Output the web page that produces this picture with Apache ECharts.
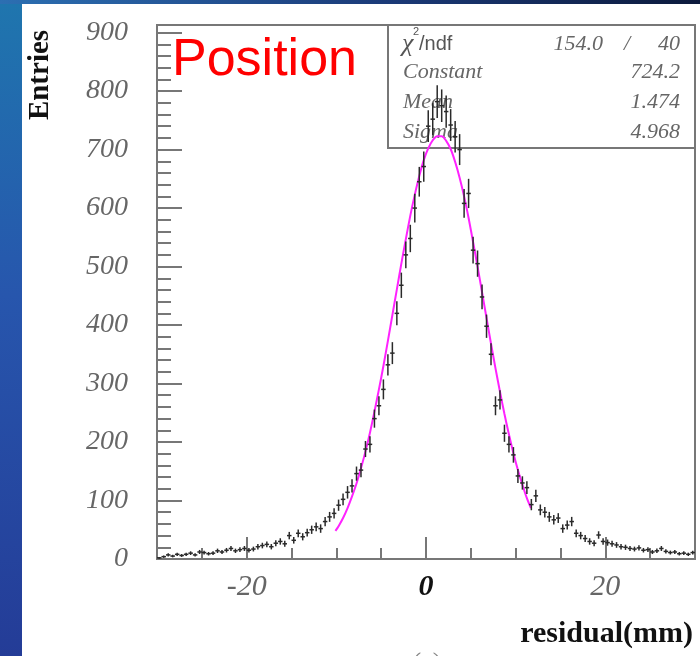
<!DOCTYPE html>
<html>
<head>
<meta charset="utf-8">
<title>Position residual</title>
<script src="https://cdn.jsdelivr.net/npm/echarts@6.0.0/dist/echarts.min.js"></script>
<style>
html, body { margin: 0; padding: 0; }
#main {
	width: 700px;
	height: 656px;
	background:
		linear-gradient(90deg, #2c6fb2 0%, #1b3a78 55%, #0c1a3c 100%) top left / 100% 4px no-repeat,
		linear-gradient(180deg, #1f76ae 0%, #2756ad 45%, #243c97 100%);
}
</style>
</head>
<body>
<div id="main"></div>
<script>
// histogram: 120 bins of 0.5 mm from -30 to 30
const xMin = -30
const binWidth = 0.5
const counts = [
	2, 4, 7, 5, 8, 6, 8, 10, 7, 12,
	11, 9, 10, 14, 12, 15, 18, 14, 16, 18,
	15, 17, 21, 23, 25, 21, 27, 30, 26, 40,
	32, 44, 38, 45, 50, 55, 52, 64, 72, 78,
	92, 102, 114, 125, 146, 152, 188, 196, 240, 262,
	290, 332, 352, 420, 468, 520, 548, 600, 645, 671,
	740, 752, 782, 775, 765, 742, 722, 700, 608, 625,
	528, 505, 448, 398, 350, 262, 272, 215, 196, 178,
	142, 130, 122, 93, 108, 84, 80, 72, 67, 70,
	52, 58, 64, 44, 40, 35, 30, 27, 41, 30,
	28, 26, 24, 21, 20, 18, 17, 19, 15, 16,
	12, 14, 18, 13, 11, 12, 9, 10, 8, 11
]

// gaussian fit curve
const fitX = [-10.1, -9.75, -9.25, -8.75, -8.25, -7.75, -7.25, -6.75, -6.25, -5.75, -5.25, -4.75, -4.25, -3.75, -3.25, -2.75, -2.25, -1.75, -1.25, -0.75, -0.25, 0.25, 0.75, 1.25, 1.75, 2.25, 2.75, 3.25, 3.75, 4.25, 4.75, 5.25, 5.75, 6.25, 6.75, 7.25, 7.75, 8.25, 8.75, 9.25, 9.75, 10.25, 10.75, 11.25, 11.7]
const fitY = [48, 56, 70, 87, 107, 129, 155, 184, 216, 252, 290, 330, 373, 417, 461, 505, 547, 587, 623, 655, 682, 702, 716, 723, 723, 715, 701, 679, 652, 620, 583, 542, 500, 456, 412, 368, 326, 286, 248, 213, 181, 152, 127, 104, 87]

const xTicks = [-30, -25, -20, -15, -10, -5, 0, 5, 10, 15, 20, 25, 30]
const xTickLabels = [-20, 0, 20]
const yTickLabels = [0, 100, 200, 300, 400, 500, 600, 700, 800, 900]

const statNames = ["Constant", "Mean", "Sigma"]
const statValues = ["724.2", "1.474", "4.968"]
const chi2 = "154.0"
const ndf = "40"

const yMinor = []
for (let v = 0; v <= 900; v += 20) yMinor.push(v)

const histData = counts.map((c, i) => [xMin + binWidth * (i + 0.5), c])
const fitData = fitX.map((x, i) => [x, fitY[i]])

const frameColor = "#777"
const serifItalic = (size, color) => ({
	font: "italic " + size + "px 'Liberation Serif', 'DejaVu Serif', serif",
	fill: color || "#666"
})

const statGraphics = []
statGraphics.push({
	type: "rect", z: 1,
	shape: { x: 388, y: 25, width: 307, height: 123 },
	style: { fill: "none", stroke: frameColor, lineWidth: 2 }
})
statGraphics.push({ type: "text", z: 1, x: 402, y: 44, style: Object.assign({ text: "χ", verticalAlign: "middle" }, serifItalic(26, "#555")) })
statGraphics.push({ type: "text", z: 1, x: 413, y: 32, style: { text: "2", font: "11px 'Liberation Sans', sans-serif", fill: "#555", verticalAlign: "middle" } })
statGraphics.push({ type: "text", z: 1, x: 419, y: 44, style: { text: "/ndf", font: "20px 'Liberation Sans', sans-serif", fill: "#555", verticalAlign: "middle" } })
statGraphics.push({ type: "text", z: 1, x: 603, y: 44, style: Object.assign({ text: chi2, align: "right", verticalAlign: "middle" }, serifItalic(22)) })
statGraphics.push({ type: "text", z: 1, x: 627, y: 44, style: Object.assign({ text: "/", align: "center", verticalAlign: "middle" }, serifItalic(22)) })
statGraphics.push({ type: "text", z: 1, x: 680, y: 44, style: Object.assign({ text: ndf, align: "right", verticalAlign: "middle" }, serifItalic(22)) })
statNames.forEach((name, i) => {
	const y = 72 + i * 30
	statGraphics.push({ type: "text", z: 1, x: 403, y: y, style: Object.assign({ text: name, verticalAlign: "middle" }, serifItalic(22)) })
	statGraphics.push({ type: "text", z: 1, x: 680, y: y, style: Object.assign({ text: statValues[i], align: "right", verticalAlign: "middle" }, serifItalic(22)) })
})

const chart = echarts.init(document.getElementById("main"), null, { renderer: "canvas" })

const option = {
	animation: false,
	backgroundColor: "transparent",
	grid: {
		left: 157, top: 25, right: 5, bottom: 97,
		show: true, borderColor: frameColor, borderWidth: 2, backgroundColor: "transparent"
	},
	xAxis: [{
		type: "value", min: -30, max: 30, interval: 5, position: "bottom",
		axisLine: { show: true, onZero: false, lineStyle: { color: frameColor, width: 2 } },
		axisTick: { show: true, inside: true, length: 11, customValues: xTicks, lineStyle: { color: frameColor, width: 2 } },
		axisLabel: {
			customValues: xTickLabels, margin: 13,
			fontFamily: "'Liberation Serif', serif", fontStyle: "italic", fontSize: 30, color: "#666",
			formatter: (v) => v === 0 ? "{z|0}" : String(v),
			rich: { z: { fontFamily: "'Liberation Serif', serif", fontStyle: "italic", fontWeight: "bold", fontSize: 30, color: "#111" } }
		},
		splitLine: { show: false }
	}, {
		type: "value", min: -30, max: 30, interval: 5, position: "bottom",
		axisLine: { show: false, onZero: false },
		axisTick: { show: true, inside: true, length: 22, customValues: xTickLabels, lineStyle: { color: frameColor, width: 2 } },
		axisLabel: { show: false },
		splitLine: { show: false }
	}],
	yAxis: [{
		type: "value", min: 0, max: 913, interval: 100, position: "left",
		axisLine: { show: true, onZero: false, lineStyle: { color: frameColor, width: 2 } },
		axisTick: { show: true, inside: true, length: 14, customValues: yMinor, lineStyle: { color: frameColor, width: 2 } },
		axisLabel: {
			customValues: yTickLabels, margin: 29,
			fontFamily: "'Liberation Serif', serif", fontStyle: "italic", fontSize: 28, color: "#666"
		},
		splitLine: { show: false }
	}, {
		type: "value", min: 0, max: 913, interval: 100, position: "left",
		axisLine: { show: false, onZero: false },
		axisTick: { show: true, inside: true, length: 25, customValues: yTickLabels, lineStyle: { color: frameColor, width: 2 } },
		axisLabel: { show: false },
		splitLine: { show: false }
	}],
	graphic: [
		{ type: "rect", z: -10, shape: { x: 22, y: 4, width: 678, height: 652 }, style: { fill: "#ffffff" } },
		{ type: "text", z: 1, x: 172, y: 61, style: { text: "Position", font: "52px 'Liberation Sans', Arial, sans-serif", fill: "#ff0000", verticalAlign: "middle" } },
		{ type: "text", z: 1, x: 41, y: 75, rotation: Math.PI / 2, style: { text: "Entries", font: "bold 29px 'Liberation Serif', serif", fill: "#111", align: "center", verticalAlign: "middle" } },
		{ type: "text", z: 1, x: 693, y: 634, style: { text: "residual(mm)", font: "bold 30px 'Liberation Serif', serif", fill: "#111", align: "right", verticalAlign: "middle" } },
		{ type: "text", z: 1, x: 427, y: 663, style: { text: "(a)", font: "26px 'Liberation Serif', serif", fill: "#888", align: "center", verticalAlign: "middle" } }
	].concat(statGraphics),
	series: [{
		name: "fit",
		type: "line",
		xAxisIndex: 0, yAxisIndex: 0,
		data: fitData,
		smooth: 0.3,
		showSymbol: false,
		lineStyle: { color: "#ff22ff", width: 2 },
		z: 3
	}, {
		name: "residual",
		type: "custom",
		xAxisIndex: 0, yAxisIndex: 0,
		data: histData,
		z: 4,
		renderItem: (params, api) => {
			const x = api.value(0)
			const v = api.value(1)
			const e = Math.sqrt(v)
			const h0 = api.coord([x - binWidth / 2, v])
			const h1 = api.coord([x + binWidth / 2, v])
			const v0 = api.coord([x, Math.max(0, v - e)])
			const v1 = api.coord([x, v + e])
			const st = { stroke: "#2a2a2a", lineWidth: 1.5 }
			return {
				type: "group",
				children: [
					{ type: "line", shape: { x1: h0[0], y1: h0[1], x2: h1[0], y2: h1[1] }, style: st },
					{ type: "line", shape: { x1: v0[0], y1: v0[1], x2: v1[0], y2: v1[1] }, style: st }
				]
			}
		}
	}]
}

chart.setOption(option)
</script>
</body>
</html>
